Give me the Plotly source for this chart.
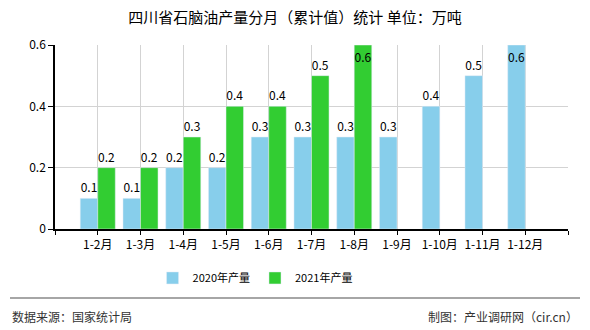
import plotly.graph_objects as go

months = ["1-2月", "1-3月", "1-4月", "1-5月", "1-6月", "1-7月", "1-8月", "1-9月", "1-10月", "1-11月", "1-12月"]
prod_2020 = [0.1, 0.1, 0.2, 0.2, 0.3, 0.3, 0.3, 0.3, 0.4, 0.5, 0.6]
prod_2021 = [0.2, 0.2, 0.3, 0.4, 0.4, 0.5, 0.6, None, None, None, None]
name_2020 = "2020年产量"
name_2021 = "2021年产量"
title = "四川省石脑油产量分月（累计值）统计 单位：万吨"
source = "数据来源：国家统计局"
maker = "制图：产业调研网（cir.cn）"

y_max = 0.6
FONT = "Noto Sans CJK SC, SimSun, sans-serif"

idx = list(range(len(months)))


def text_pos(vals):
    return ["inside" if (v is not None and v >= y_max) else "outside" for v in vals]


def labels(vals):
    return ["" if v is None else f"{v:.1f}" for v in vals]


fig = go.Figure()
fig.add_trace(go.Bar(
    x=idx, y=prod_2020, name=name_2020, marker_color="#87CEEB",
    text=labels(prod_2020), textposition=text_pos(prod_2020),
    insidetextanchor="end", constraintext="none",
    textfont=dict(color="#000000", size=12, family=FONT),
    cliponaxis=True,
))
fig.add_trace(go.Bar(
    x=idx, y=prod_2021, name=name_2021, marker_color="#32CD32",
    text=labels(prod_2021), textposition=text_pos(prod_2021),
    insidetextanchor="end", constraintext="none",
    textfont=dict(color="#000000", size=12, family=FONT),
    cliponaxis=True,
))

tickvals = list(range(-1, len(months) + 1))
ticktext = [""] + months + [""]

fig.update_layout(
    width=590, height=330,
    margin=dict(l=55, r=22, t=45, b=101),
    paper_bgcolor="white", plot_bgcolor="white",
    barmode="group", bargap=0.18, bargroupgap=0,
    font=dict(family=FONT, size=12, color="#000000"),
    title=dict(text=title, x=0.5, xanchor="center", y=1 - 18 / 330, yanchor="middle",
               font=dict(size=15, color="#000000", family=FONT)),
    showlegend=True,
    legend=dict(orientation="h", x=0.39, xanchor="center", y=-0.266, yanchor="middle",
                font=dict(size=11, color="#000000", family=FONT),
                itemwidth=30, tracegroupgap=0),
    xaxis=dict(
        range=[-1, len(months)], tickmode="array", tickvals=tickvals, ticktext=ticktext,
        showgrid=True, gridcolor="#D3D3D3", gridwidth=1,
        showline=True, linecolor="#000000", linewidth=1.5,
        ticks="outside", ticklen=4, tickcolor="#000000",
        tickfont=dict(size=12, color="#000000", family=FONT),
        zeroline=False, fixedrange=True,
    ),
    yaxis=dict(
        range=[0, y_max], tickmode="array", tickvals=[0, 0.2, 0.4, 0.6],
        ticktext=["0", "0.2", "0.4", "0.6"],
        showgrid=True, gridcolor="#D3D3D3", gridwidth=1,
        showline=True, linecolor="#000000", linewidth=1.5,
        ticks="outside", ticklen=5, tickcolor="#000000",
        tickfont=dict(size=12, color="#000000", family=FONT),
        zeroline=False, fixedrange=True,
    ),
)

# footer separator and texts
fig.add_shape(type="line", xref="paper", yref="paper",
              x0=(10 - 55) / 513, x1=(580 - 55) / 513, y0=-69 / 184, y1=-69 / 184,
              line=dict(color="#888888", width=1.5))
fig.add_annotation(text=source, xref="paper", yref="paper", x=(10 - 55) / 513, y=-87 / 184,
                   xanchor="left", yanchor="middle", showarrow=False,
                   font=dict(size=12, color="#333333", family=FONT))
fig.add_annotation(text=maker, xref="paper", yref="paper", x=(580 - 55) / 513, y=-87 / 184,
                   xanchor="right", yanchor="middle", showarrow=False,
                   font=dict(size=12, color="#333333", family=FONT))

fig.write_html("out.html")
